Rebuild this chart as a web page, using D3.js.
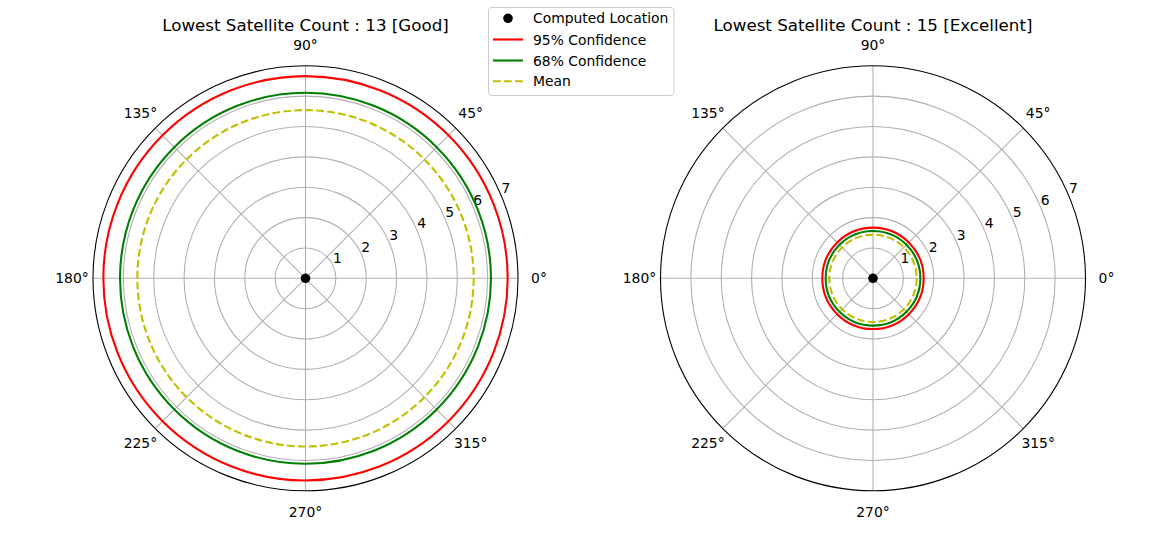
<!DOCTYPE html>
<html lang="en">
<head>
<meta charset="UTF-8">
<title>Lowest Satellite Count</title>
<script src="https://d3js.org/d3.v7.min.js"></script>
<style>
html, body { margin: 0; padding: 0; background: white; }
body { font-family: 'DejaVu Sans', sans-serif; }
.title { font-size: 16.7px; fill: #000; }
.tick-label { font-size: 13.9px; fill: #000; }
.legend text { font-size: 13.9px; fill: #000; }
.grid { fill: none; stroke: #b0b0b0; stroke-width: 1.1px; }
.spine { fill: none; stroke: #000; stroke-width: 1.1px; }
</style>
</head>
<body>
<div id="chart"></div>
<script>

// --------------------------------------
// Data
// --------------------------------------

const titles = ["Lowest Satellite Count : 13 [Good]", "Lowest Satellite Count : 15 [Excellent]"];
const conf95 = [6.66, 1.67];
const conf68 = [6.11, 1.56];
const meanR = [5.54, 1.44];
const rTicks = [1, 2, 3, 4, 5, 6, 7];
const thetaTicks = [0, 45, 90, 135, 180, 225, 270, 315];
const legendLabels = ["Computed Location", "95% Confidence", "68% Confidence", "Mean"];

// --------------------------------------
// Size and layout
// --------------------------------------

let totalWidth = 1162;
let totalHeight = 555;
let centers = [[305.5, 278.3], [873, 278.3]];
let R = 212.5;

let svg = d3.select('#chart')
  .append("svg")
  .attr("width", totalWidth)
  .attr("height", totalHeight);

let r = d3.scaleLinear().domain([0, 7]).range([0, R]);

titles.forEach((t, i) => {
  let [cx, cy] = centers[i];
  let g = svg.append("g").attr("transform", `translate(${cx},${cy})`);

  // grid rings
  g.selectAll(".ring")
    .data(rTicks.slice(0, -1))
    .join("circle")
    .attr("class", "grid")
    .attr("r", d => r(d));

  // spokes
  g.selectAll(".spoke")
    .data(thetaTicks)
    .join("line")
    .attr("class", "grid")
    .attr("x1", 0).attr("y1", 0)
    .attr("x2", d => R * Math.cos(d * Math.PI / 180))
    .attr("y2", d => -R * Math.sin(d * Math.PI / 180));

  // outer spine
  g.append("circle").attr("class", "spine").attr("r", r(7));

  // angular labels
  g.selectAll(".tlab")
    .data(thetaTicks)
    .join("text")
    .attr("class", "tick-label")
    .attr("text-anchor", "middle")
    .attr("dominant-baseline", "central")
    .attr("x", d => (R + 21) * Math.cos(d * Math.PI / 180))
    .attr("y", d => -(R + 21) * Math.sin(d * Math.PI / 180))
    .text(d => d + "°");

  // radial labels at 22.5 deg
  let a = 22.5 * Math.PI / 180;
  g.selectAll(".rlab")
    .data(rTicks)
    .join("text")
    .attr("class", "tick-label")
    .attr("text-anchor", "middle")
    .attr("dominant-baseline", "central")
    .attr("x", d => r(d) * Math.cos(a) + 4)
    .attr("y", d => -r(d) * Math.sin(a) - 8.5)
    .text(d => d);

  // confidence circles
  g.append("circle").attr("r", r(conf95[i]))
    .attr("fill", "none").attr("stroke", "#ff0000").attr("stroke-width", 2.1);
  g.append("circle").attr("r", r(conf68[i]))
    .attr("fill", "none").attr("stroke", "#008000").attr("stroke-width", 2.1);
  g.append("circle").attr("r", r(meanR[i]))
    .attr("fill", "none").attr("stroke", "#bfbf00").attr("stroke-width", 2.1)
    .attr("stroke-dasharray", "7.7,3.3");

  // computed location
  g.append("circle").attr("r", 4.8).attr("fill", "#000");

  // title
  svg.append("text")
    .attr("class", "title")
    .attr("x", cx).attr("y", 25)
    .attr("text-anchor", "middle")
    .attr("dominant-baseline", "central")
    .text(t);
});

// --------------------------------------
// Legend
// --------------------------------------

let legend = svg.append("g").attr("class", "legend");

legend.append("rect")
  .attr("x", 488.5).attr("y", 7.5)
  .attr("width", 185.5).attr("height", 88)
  .attr("rx", 3)
  .attr("fill", "white").attr("fill-opacity", 0.8)
  .attr("stroke", "#cccccc").attr("stroke-width", 1);

let rowY = [18.3, 39.5, 60.5, 81.2];
let lineStyles = [null, ["#ff0000", null], ["#008000", null], ["#bfbf00", "7.7,3.3"]];

legendLabels.forEach((lab, i) => {
  if (i === 0) {
    legend.append("circle").attr("cx", 508).attr("cy", rowY[i]).attr("r", 4.8).attr("fill", "#000");
  } else {
    legend.append("line")
      .attr("x1", 493).attr("x2", 523)
      .attr("y1", rowY[i]).attr("y2", rowY[i])
      .attr("stroke", lineStyles[i][0]).attr("stroke-width", 2.1)
      .attr("stroke-dasharray", lineStyles[i][1]);
  }
  legend.append("text")
    .attr("x", 533).attr("y", rowY[i])
    .attr("dominant-baseline", "central")
    .text(lab);
});

</script>
</body>
</html>
